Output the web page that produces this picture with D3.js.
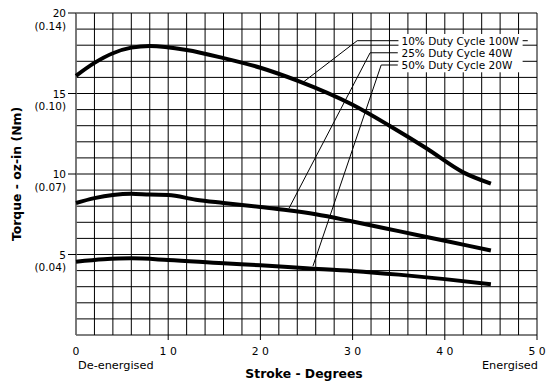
<!DOCTYPE html>
<html>
<head>
<meta charset="utf-8">
<script src="https://cdn.jsdelivr.net/npm/d3@7"></script>
<style>
  body { margin: 0; background: #fff; }
  svg { display: block; }
  text { font-family: "DejaVu Sans", sans-serif; fill: #000; }
</style>
</head>
<body>
<script>
// values: stroke (degrees) vs torque (oz-in)
var dutyLabels = ["10% Duty Cycle 100W", "25% Duty Cycle 40W", "50% Duty Cycle 20W"];

var deg10 = [0, 2, 4, 6, 8, 12, 16, 20, 24, 30, 34, 38, 42, 45];
var torque10 = [16.1, 16.9, 17.5, 17.85, 17.95, 17.7, 17.2, 16.6, 15.8, 14.3, 13.0, 11.6, 10.1, 9.4];

var deg25 = [0, 2, 4, 6, 8, 10, 13, 16, 20, 23, 26, 30, 35, 40, 45];
var torque25 = [8.2, 8.5, 8.7, 8.78, 8.72, 8.7, 8.4, 8.2, 7.95, 7.75, 7.5, 7.05, 6.45, 5.85, 5.25];

var deg50 = [0, 3, 6, 10, 16, 20, 25, 30, 35, 40, 45];
var torque50 = [4.55, 4.7, 4.76, 4.66, 4.45, 4.33, 4.15, 3.98, 3.75, 3.47, 3.15];

// leader lines: point on curve -> elbow -> label
var leaderFrom = [[24.7, 15.73], [23.1, 7.87], [25.7, 4.28]];
var leaderElbow = [[30.5, 18.28], [31.9, 17.53], [33.1, 16.77]];

var yTicks = [20, 15, 10, 5];
var yTickNm = ["(0.14)", "(0.10)", "(0.07)", "(0.04)"];
var xTicks = [0, 10, 20, 30, 40, 50];
var xTickLabels = ["0", "1 0", "2 0", "3 0", "4 0", "5 0"];

var W = 547, H = 385;
var x = d3.scaleLinear().domain([0, 50]).range([76, 537]);
var y = d3.scaleLinear().domain([0, 20]).range([335, 13]);

var svg = d3.select("body").append("svg").attr("width", W).attr("height", H);

// grid: every 2 degrees, every 1 oz-in
var grid = svg.append("g").attr("stroke", "#000").attr("stroke-width", 1);
grid.selectAll(".vg").data(d3.range(0, 51, 2)).enter().append("line")
  .attr("x1", d => x(d)).attr("x2", d => x(d))
  .attr("y1", y(0)).attr("y2", y(20));
grid.selectAll(".hg").data(d3.range(0, 21, 1)).enter().append("line")
  .attr("x1", x(0)).attr("x2", x(50))
  .attr("y1", d => y(d)).attr("y2", d => y(d));
grid.append("line").attr("x1", x(0)).attr("x2", x(0)).attr("y1", y(0)).attr("y2", y(20))
  .attr("stroke", "#777").attr("stroke-width", 1.5);

// y ticks + labels
var yt = svg.append("g");
yt.selectAll("line").data(yTicks).enter().append("line")
  .attr("x1", x(0) - 8).attr("x2", x(0))
  .attr("y1", d => y(d)).attr("y2", d => y(d))
  .attr("stroke", "#000");
yt.selectAll(".n").data(yTicks).enter().append("text")
  .attr("x", 66).attr("y", d => y(d) + 4)
  .attr("text-anchor", "end").attr("font-size", 10.5)
  .text(d => d);
yt.selectAll(".m").data(yTicks).enter().append("text")
  .attr("x", 66).attr("y", d => y(d) + 16.5)
  .attr("text-anchor", "end").attr("font-size", 10.5)
  .text((d, i) => yTickNm[i]);

// x ticks + labels
var xt = svg.append("g");
xt.selectAll("line").data(xTicks.slice(1)).enter().append("line")
  .attr("x1", d => x(d)).attr("x2", d => x(d))
  .attr("y1", y(0)).attr("y2", y(0) + 5)
  .attr("stroke", "#000");
xt.selectAll("text").data(xTicks).enter().append("text")
  .attr("x", d => x(d)).attr("y", 355)
  .attr("text-anchor", "middle").attr("font-size", 10.8)
  .text((d, i) => xTickLabels[i]);

svg.append("text").attr("x", 78).attr("y", 369).attr("font-size", 11.3).text("De-energised");
svg.append("text").attr("x", 538).attr("y", 369).attr("font-size", 11.3)
  .attr("text-anchor", "end").text("Energised");

svg.append("text").attr("x", 304).attr("y", 378).attr("font-size", 12.4)
  .attr("font-weight", "bold").attr("text-anchor", "middle").text("Stroke - Degrees");
svg.append("text").attr("transform", "translate(21," + ((y(0) + y(20)) / 2) + ") rotate(-90)")
  .attr("font-size", 12.4).attr("font-weight", "bold").attr("text-anchor", "middle")
  .text("Torque - oz-in (Nm)");

// curves
var line = d3.line().x(d => x(d[0])).y(d => y(d[1])).curve(d3.curveMonotoneX);
var series = [d3.zip(deg10, torque10), d3.zip(deg25, torque25), d3.zip(deg50, torque50)];
svg.append("g").selectAll("path").data(series).enter().append("path")
  .attr("d", line)
  .attr("fill", "none").attr("stroke", "#000").attr("stroke-width", 4);

// leaders and labels
var labelStart = 35.3, leaderEnd = [49, 34.9, 34.9];
var lg = svg.append("g");
leaderFrom.forEach(function(p, i) {
  var e = leaderElbow[i];
  lg.append("path")
    .attr("d", d3.line()([[x(p[0]), y(p[1])], [x(e[0]), y(e[1])], [x(leaderEnd[i]), y(e[1])]]))
    .attr("fill", "none").attr("stroke", "#000").attr("stroke-width", 1);
});
var box = lg.append("rect").attr("fill", "#fff");
var labels = lg.selectAll("text").data(dutyLabels).enter().append("text")
  .attr("x", x(labelStart)).attr("y", (d, i) => y(leaderElbow[i][1]) + 4.3)
  .attr("font-size", 10.5).text(d => d);
var bb = lg.node().getBBox();
var tb = labels.nodes().map(n => n.getBBox());
var bx0 = d3.min(tb, b => b.x) - 3, bx1 = d3.max(tb, b => b.x + b.width) + 3;
var by0 = d3.min(tb, b => b.y) - 1, by1 = d3.max(tb, b => b.y + b.height) + 1;
box.attr("x", bx0).attr("y", by0).attr("width", bx1 - bx0).attr("height", by1 - by0);
</script>
</body>
</html>
